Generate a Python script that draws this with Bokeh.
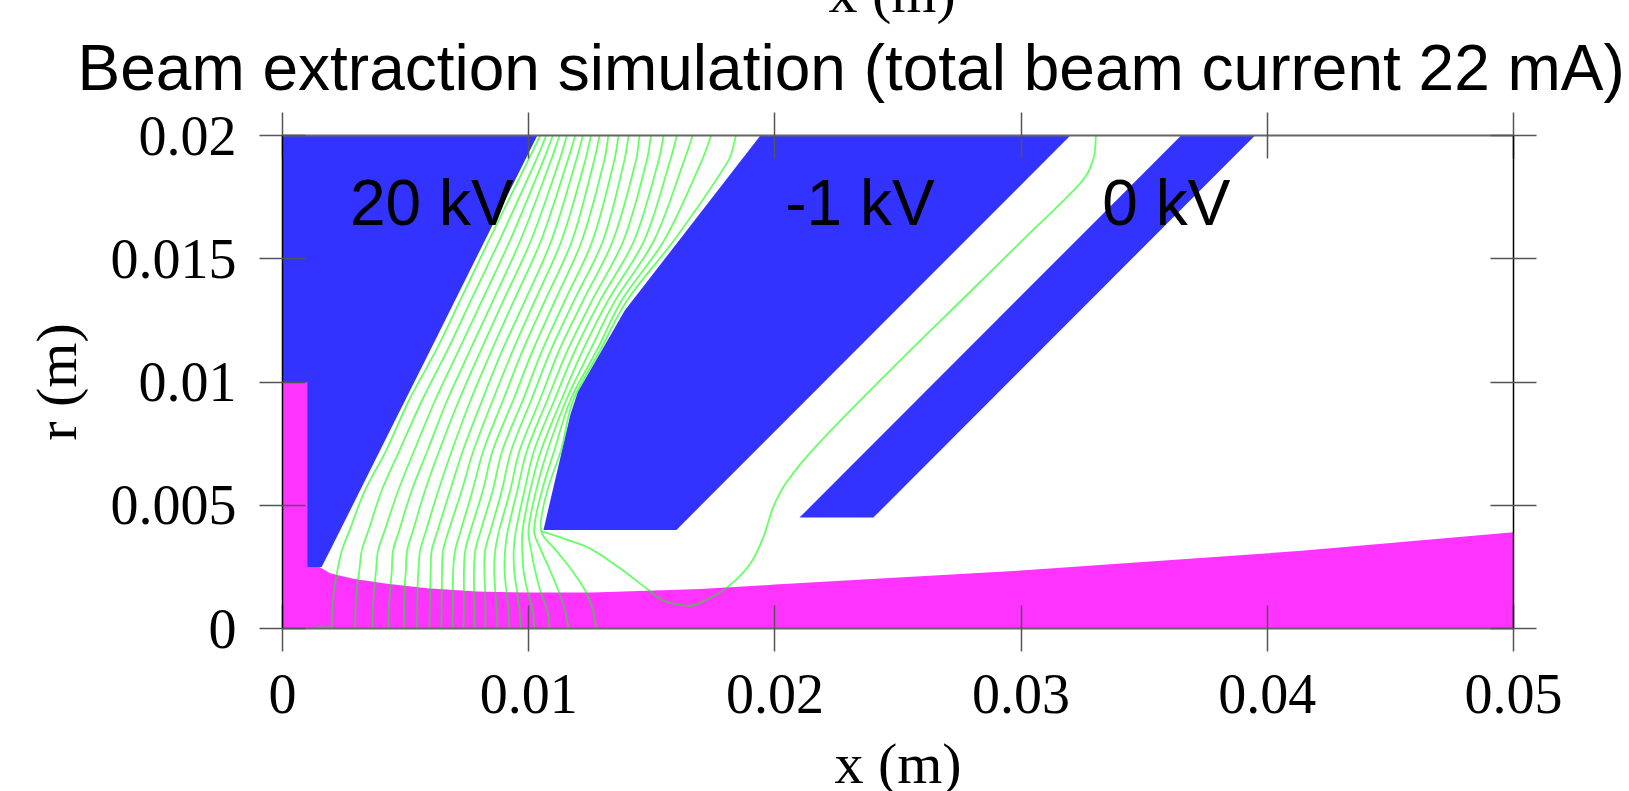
import numpy as np
from bokeh.plotting import figure
from bokeh.models import Range1d, FixedTicker, LinearAxis, Label, Title
from bokeh.embed import file_html
from bokeh.resources import INLINE

title_text = "Beam extraction simulation (total beam current 22 mA)"
x_label = "x (m)"
y_label = "r (m)"
x_ticks = [0, 0.01, 0.02, 0.03, 0.04, 0.05]
x_tick_labels = ["0", "0.01", "0.02", "0.03", "0.04", "0.05"]
y_ticks = [0, 0.005, 0.01, 0.015, 0.02]
y_tick_labels = ["0", "0.005", "0.01", "0.015", "0.02"]

# All geometry below is in millimetres
electrode_20kv_x = [0, 10.35, 8.23, 6.0, 3.96, 1.93, 1.59, 1.0, 1.0, 0]
electrode_20kv_r = [20, 20, 15.76, 11.29, 7.22, 3.16, 2.5, 2.5, 10, 10]
electrode_m1kv_x = [19.41, 32.0, 16.0, 10.6, 11.7, 12.0, 13.9]
electrode_m1kv_r = [20, 20, 4.0, 4.0, 8.7, 9.6, 12.9]
electrode_0kv_x = [36.5, 39.5, 24.0, 21.0]
electrode_0kv_r = [20, 20, 4.5, 4.5]
beam_x = [0, 0, 1.0, 1.0, 1.5, 1.93, 2.87, 4.25, 5.87, 7.91, 9.94, 12.6, 16.97, 20.0, 30.0, 41.4, 50, 50]
beam_r = [0, 10, 10, 2.5, 2.5, 2.24, 2.02, 1.82, 1.63, 1.50, 1.46, 1.46, 1.60, 1.78, 2.35, 3.15, 3.9, 0]

# Equipotential lines: x position of each of the 19 lines at each radius
row_radii = [0, 0.72, 1.53, 2.35, 3.16, 3.97, 5.6, 7.22, 9.26, 11.29, 13.32, 15.76, 19.0, 20.0]
x_at_r00 = [2.00,2.95,3.65,4.30,4.93,5.46,5.97,6.44,6.90,7.35,7.80,8.24,8.72,9.21,9.68,10.22,10.85,11.62,12.74]
x_at_r01 = [2.02,2.96,3.67,4.32,4.94,5.47,5.98,6.46,6.92,7.37,7.80,8.24,8.71,9.18,9.63,10.17,10.76,11.48,12.61]
x_at_r02 = [2.09,3.02,3.72,4.37,4.95,5.48,6.00,6.47,6.92,7.37,7.78,8.23,8.64,9.09,9.52,9.95,10.47,11.21,12.30]
x_at_r03 = [2.23,3.12,3.80,4.44,5.01,5.52,6.02,6.48,6.93,7.37,7.78,8.20,8.60,9.02,9.41,9.79,10.26,10.87,11.76]
x_at_r04 = [2.41,3.22,3.88,4.49,5.06,5.59,6.06,6.52,7.01,7.42,7.83,8.23,8.64,9.04,9.39,9.74,10.10,10.51,11.12]
x_at_r05 = [2.72,3.49,4.15,4.74,5.30,5.83,6.30,6.75,7.24,7.64,8.05,8.45,8.80,9.15,9.48,9.75,9.99,10.22,10.50]
x_at_r06 = [3.35,4.03,4.70,5.25,5.79,6.33,6.81,7.28,7.72,8.14,8.54,8.91,9.25,9.54,9.83,10.06,10.30,10.54,10.76]
x_at_r07 = [4.21,4.75,5.35,5.89,6.37,6.88,7.33,7.76,8.16,8.54,8.93,9.29,9.63,9.93,10.22,10.50,10.76,11.04,11.31]
x_at_r08 = [5.14,5.67,6.20,6.69,7.17,7.64,8.11,8.54,8.96,9.37,9.76,10.10,10.45,10.75,11.04,11.32,11.52,11.69,11.81]
x_at_r09 = [6.24,6.70,7.16,7.62,8.06,8.50,8.93,9.36,9.76,10.17,10.55,10.90,11.24,11.58,11.89,12.20,12.50,12.77,12.91]
x_at_r10 = [7.22,7.66,8.11,8.56,8.98,9.41,9.86,10.26,10.67,11.08,11.48,11.85,12.22,12.58,12.91,13.23,13.52,13.78,14.00]
x_at_r11 = [8.39,8.82,9.25,9.67,10.10,10.51,10.93,11.34,11.77,12.17,12.60,13.03,13.43,13.86,14.29,14.70,15.10,15.51,15.91]
x_at_r13 = [9.98,10.30,10.60,10.91,11.25,11.59,11.93,12.30,12.66,13.07,13.48,13.89,14.36,14.80,15.28,15.75,16.32,17.04,18.12]
x_at_r14 = [10.47,10.71,10.98,11.25,11.55,11.89,12.20,12.53,12.88,13.24,13.65,14.06,14.50,14.97,15.48,16.02,16.66,17.41,18.42]
line_rows = [x_at_r00, x_at_r01, x_at_r02, x_at_r03, x_at_r04, x_at_r05, x_at_r06, x_at_r07,
             x_at_r08, x_at_r09, x_at_r10, x_at_r11, x_at_r13, x_at_r14]

# The one equipotential that runs between the -1 kV and 0 kV electrodes
outer_line_x = [10.54,11.41,12.50,13.72,14.80,15.47,16.50,16.97,18.06,19.00,19.53,19.93,20.47,21.64,24.75,27.86,30.20,31.75,32.61,32.96,33.04]
outer_line_r = [3.94,3.65,3.24,2.43,1.61,1.13,0.92,1.04,1.67,2.63,3.70,4.92,5.93,7.36,10.54,13.59,15.89,17.39,18.33,19.15,20.0]
axis_foot_x = [1.3, 2.0]
axis_foot_r = [0.04, 0.04]

voltage_labels = ["20 kV", "-1 kV", "0 kV"]
voltage_label_x = [2.74, 20.42, 33.3]
voltage_label_r = [17.28, 17.28, 17.28]

MM = 0.001
BLUE, MAGENTA, GREEN = "#3333ff", "#ff33ff", "#00ff00"
SERIF, SANS = "Liberation Serif", "Liberation Sans"

# The reference cuts one caption at its top edge and one at its bottom edge,
# so the figure is a little taller than the window and overhangs it at both ends.
OVER_TOP, OVER_BOTTOM = 40, 7

p = figure(width=1629, height=791 + OVER_TOP + OVER_BOTTOM, output_backend="svg", toolbar_location=None,
           x_range=Range1d(0, 0.05), y_range=Range1d(0, 0.02),
           x_axis_location=None, y_axis_location=None,
           margin=(-OVER_TOP, 0, -OVER_BOTTOM, 0),
           min_border_left=282, min_border_right=116,
           min_border_top=135 + OVER_TOP, min_border_bottom=163 + OVER_BOTTOM)
p.grid.visible = False
p.outline_line_color = None
p.background_fill_color = "white"

for ex, er in ((electrode_20kv_x, electrode_20kv_r),
               (electrode_m1kv_x, electrode_m1kv_r),
               (electrode_0kv_x, electrode_0kv_r)):
    p.patch(np.array(ex) * MM, np.array(er) * MM, fill_color=BLUE, line_color=None)
p.patch(np.array(beam_x) * MM, np.array(beam_r) * MM, fill_color=MAGENTA, line_color=None)


def draw_curve(cx, cr):
    """Draw a smooth curve through the points that were read, as Bezier pieces."""
    pts = np.column_stack([np.array(cx) * MM, np.array(cr) * MM])
    seg = np.hypot(*np.diff(pts, axis=0).T)
    tan = np.zeros_like(pts)
    tan[1:-1] = (pts[2:] - pts[:-2]) / (seg[1:] + seg[:-1])[:, None]
    tan[0] = (pts[1] - pts[0]) / seg[0]
    tan[-1] = (pts[-1] - pts[-2]) / seg[-1]
    c0 = pts[:-1] + tan[:-1] * seg[:, None] / 3
    c1 = pts[1:] - tan[1:] * seg[:, None] / 3
    p.bezier(pts[:-1, 0], pts[:-1, 1], pts[1:, 0], pts[1:, 1],
             c0[:, 0], c0[:, 1], c1[:, 0], c1[:, 1],
             line_color=GREEN, line_alpha=0.6, line_width=1.8)


rows = np.array(line_rows)
for i in range(rows.shape[1]):
    draw_curve(rows[:, i], row_radii)
draw_curve(outer_line_x, outer_line_r)
draw_curve(axis_foot_x, axis_foot_r)


def style(ax, ticks, labels=None, line_color="#666666", line_width=2):
    ax.ticker = FixedTicker(ticks=ticks)
    ax.major_tick_in = 23
    ax.major_tick_out = 23
    ax.minor_tick_in = 0
    ax.minor_tick_out = 0
    ax.major_tick_line_color = "#555555"
    ax.major_tick_line_width = 1.5
    ax.axis_line_color = line_color
    ax.axis_line_width = line_width
    if labels is None:
        ax.major_label_text_font_size = "0px"
        ax.major_label_text_color = None
        ax.major_label_standoff = 0
    else:
        ax.major_label_overrides = dict(zip(ticks, labels))
        ax.major_label_text_font = SERIF
        ax.major_label_text_font_size = "56px"
        ax.major_label_text_color = "black"
        ax.axis_label_text_font = SERIF
        ax.axis_label_text_font_style = "normal"
        ax.axis_label_text_font_size = "58px"
        ax.axis_label_text_color = "black"


bottom = LinearAxis(major_label_standoff=23, axis_label=x_label, axis_label_standoff=15)
style(bottom, x_ticks, x_tick_labels)
p.add_layout(bottom, "below")
top = LinearAxis()
style(top, x_ticks)
p.add_layout(top, "above")
left = LinearAxis(axis_label=y_label, axis_label_standoff=19, major_label_standoff=23)
style(left, y_ticks, y_tick_labels, line_color="black", line_width=1.5)
p.add_layout(left, "left")
right = LinearAxis()
style(right, y_ticks, line_color="black", line_width=1.5)
p.add_layout(right, "right")

for text, lx, lr in zip(voltage_labels, voltage_label_x, voltage_label_r):
    p.add_layout(Label(x=lx * MM, y=lr * MM, text=text, text_font=SANS, text_font_size="64px",
                       text_color="black", text_baseline="middle"))

p.add_layout(Title(text=title_text, text_font=SANS, text_font_size="64px", text_font_style="normal",
                   text_color="black", align="left", offset=-205, standoff=18), "above")
# caption of the figure above, cut by the page edge
p.add_layout(Title(text=x_label, text_font=SERIF, text_font_size="58px", text_font_style="normal",
                   text_color="black", align="left", offset=546, standoff=-8), "above")

open("out.html", "w").write(file_html(p, INLINE))
